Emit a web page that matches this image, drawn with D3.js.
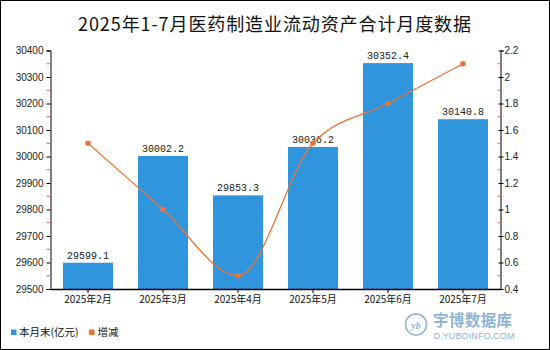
<!DOCTYPE html>
<html>
<head>
<meta charset="utf-8">
<script src="https://cdn.jsdelivr.net/npm/d3@7"></script>
<style>
  html, body { margin: 0; padding: 0; background: #fff; }
  svg { display: block; }
</style>
</head>
<body>
<svg id="chart" width="550" height="350"></svg>
<script>
// Monthly totals (亿元) and month-on-month change
const months = ["2025年2月", "2025年3月", "2025年4月", "2025年5月", "2025年6月", "2025年7月"];
const totals = [29599.1, 30002.2, 29853.3, 30036.2, 30352.4, 30140.8];
const changes = [1.5, 1.0, 0.5, 1.5, 1.8, 2.1];
const leftTicks = [29500, 29600, 29700, 29800, 29900, 30000, 30100, 30200, 30300, 30400];
const rightTicks = [0.4, 0.6, 0.8, 1, 1.2, 1.4, 1.6, 1.8, 2, 2.2];

const W = 550, H = 350;
const m = { left: 50.5, right: 49.5, top: 50.5, bottom: 61 };
const svg = d3.select("#chart");

const barColor = "#2f95dd";
const lineColor = "#ec7336";
const minorColor = "#e06060";
const cjk = "'Noto Sans CJK SC', 'Noto Sans', sans-serif";

// outer frame
svg.append("rect").attr("x", 0.5).attr("y", 0.5).attr("width", W - 1).attr("height", H - 1)
  .attr("fill", "#fff").attr("stroke", "#000").attr("stroke-width", 1);

// title
svg.append("text").attr("x", W / 2).attr("y", 31).attr("text-anchor", "middle")
  .attr("font-family", cjk).attr("font-size", 18).attr("letter-spacing", 0.9)
  .attr("fill", "#111").text("2025年1-7月医药制造业流动资产合计月度数据");

const x = d3.scaleBand().domain(months).range([m.left, W - m.right]).paddingInner(1 / 3).paddingOuter(1 / 6);
const yL = d3.scaleLinear().domain([29500, 30400]).range([H - m.bottom, m.top]);
const yR = d3.scaleLinear().domain([0.4, 2.2]).range([H - m.bottom, m.top]);

// bars
svg.append("g").selectAll("rect").data(totals).join("rect")
  .attr("x", (d, i) => x(months[i]))
  .attr("y", d => yL(d))
  .attr("width", x.bandwidth())
  .attr("height", d => yL(29500) - yL(d))
  .attr("fill", barColor);

// bar value labels
svg.append("g").selectAll("text").data(totals).join("text")
  .attr("x", (d, i) => x(months[i]) + x.bandwidth() / 2)
  .attr("y", d => yL(d) - 4)
  .attr("text-anchor", "middle")
  .attr("font-family", "'Liberation Mono', 'DejaVu Sans Mono', monospace")
  .attr("font-size", 10).attr("fill", "#222")
  .text(d => d.toFixed(1));

// left axis
const gL = svg.append("g").attr("transform", `translate(${m.left},0)`)
  .call(d3.axisLeft(yL).tickValues(leftTicks).tickFormat(d3.format("d")).tickSize(4).tickPadding(3));
gL.select(".domain").attr("stroke", "#000");
gL.selectAll(".tick line").attr("stroke", "#000");
gL.selectAll(".tick text").attr("font-family", "'Liberation Sans', Arial, sans-serif").attr("font-size", 10).attr("fill", "#222");
gL.selectAll(".minor").data(leftTicks.slice(0, -1).map(v => v + 50)).join("line")
  .attr("class", "minor").attr("x1", -4).attr("x2", 0)
  .attr("y1", d => yL(d)).attr("y2", d => yL(d)).attr("stroke", minorColor);

// right axis
const gR = svg.append("g").attr("transform", `translate(${W - m.right},0)`)
  .call(d3.axisRight(yR).tickValues(rightTicks).tickFormat(d => d3.format("")(+d.toFixed(1))).tickSize(3).tickPadding(1));
gR.select(".domain").attr("stroke", "#000");
gR.selectAll(".tick line").attr("stroke", "#000").attr("x1", -2);
gR.selectAll(".tick text").attr("font-family", "'Liberation Sans', Arial, sans-serif").attr("font-size", 10).attr("fill", "#222");
gR.selectAll(".minor").data(rightTicks.slice(0, -1).map(v => v + 0.1)).join("line")
  .attr("class", "minor").attr("x1", -3).attr("x2", 0)
  .attr("y1", d => yR(d)).attr("y2", d => yR(d)).attr("stroke", minorColor);

// bottom axis
const gB = svg.append("g").attr("transform", `translate(0,${H - m.bottom})`)
  .call(d3.axisBottom(x).tickSize(4).tickPadding(3).tickSizeOuter(0));
gB.select(".domain").attr("stroke", "#000").attr("stroke-width", 1.5);
gB.selectAll(".tick line").attr("stroke", "#000");
gB.selectAll(".tick text").attr("font-family", cjk).attr("font-size", 10).attr("fill", "#111");

// change line
const line = d3.line()
  .x((d, i) => x(months[i]) + x.bandwidth() / 2)
  .y(d => yR(d))
  .curve(d3.curveMonotoneX);
svg.append("path").datum(changes).attr("d", line)
  .attr("fill", "none").attr("stroke", lineColor).attr("stroke-width", 1.3);
svg.append("g").selectAll("circle").data(changes).join("circle")
  .attr("cx", (d, i) => x(months[i]) + x.bandwidth() / 2)
  .attr("cy", d => yR(d)).attr("r", 2.8).attr("fill", lineColor);

// legend
const legend = svg.append("g").attr("font-family", cjk).attr("font-size", 10.5).attr("fill", "#111");
legend.append("rect").attr("x", 11).attr("y", 329.5).attr("width", 5.5).attr("height", 5.5).attr("fill", barColor);
legend.append("text").attr("x", 19).attr("y", 336).text("本月末(亿元)");
legend.append("rect").attr("x", 89).attr("y", 329.5).attr("width", 5.5).attr("height", 5.5).attr("fill", lineColor);
legend.append("text").attr("x", 97.5).attr("y", 336).text("增减");

// brand mark
const brand = svg.append("g").attr("fill", "#8fb2db");
brand.append("circle").attr("cx", 416).attr("cy", 324.5).attr("r", 10.5)
  .attr("fill", "none").attr("stroke", "#8fb2db").attr("stroke-width", 1.5);
brand.append("text").attr("x", 416).attr("y", 328.5).attr("text-anchor", "middle")
  .attr("font-family", "'Liberation Serif', serif").attr("font-style", "italic").attr("font-weight", "bold")
  .attr("font-size", 10).text("yb");
brand.append("text").attr("x", 433).attr("y", 326).attr("font-family", cjk).attr("font-weight", "bold")
  .attr("font-size", 15.5).attr("letter-spacing", 0.4).text("宇博数据库");
brand.append("text").attr("x", 433.5).attr("y", 338.5).attr("font-family", "'Liberation Sans', Arial, sans-serif")
  .attr("font-size", 9.2).text("D.YUBOINFO.COM");
</script>
</body>
</html>
